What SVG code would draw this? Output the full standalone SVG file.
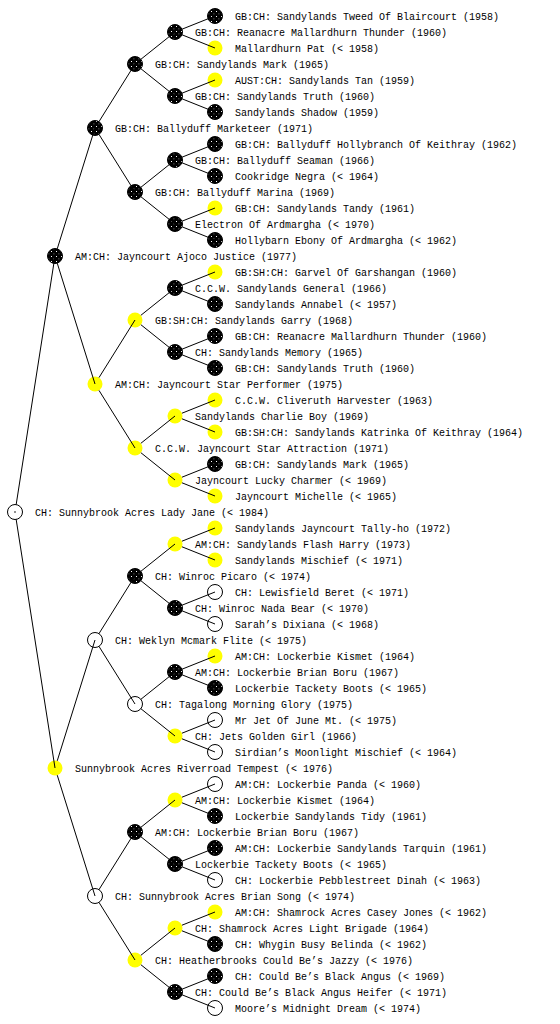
<svg xmlns="http://www.w3.org/2000/svg" width="560" height="1024" viewBox="0 0 560 1024">
<defs>
<pattern id="dots" width="5" height="5" patternUnits="userSpaceOnUse">
<rect width="5" height="5" fill="#000"/>
<rect x="1" y="1" width="1" height="1" fill="#fff"/>
<rect x="3.5" y="3.5" width="0.8" height="0.8" fill="#bbb"/>
</pattern>
<style>
.b{fill:url(#dots);stroke:#000;stroke-width:1}
.y{fill:#ffff00;stroke:none}
.w{fill:#fff;stroke:#000;stroke-width:1}
text{font-family:"Liberation Mono","DejaVu Sans Mono",monospace;font-size:10px;fill:#000}
.c{fill:none;stroke:#000;stroke-width:1}
</style>
</defs>
<rect width="560" height="1024" fill="#fff"/>
<g id="nodes">
<g id="n0"><circle class="w" cx="15" cy="512" r="7.5"/><circle cx="15" cy="512" r="0.8" fill="#000"/><text x="35" y="515.5">CH: Sunnybrook Acres Lady Jane (&lt; 1984)</text></g>
<g id="n1a"><circle class="b" cx="55" cy="256" r="7.5"/><text x="75" y="259.5">AM:CH: Jayncourt Ajoco Justice (1977)</text></g>
<g id="n1b"><circle class="y" cx="55" cy="768" r="7.5"/><text x="75" y="771.5">Sunnybrook Acres Riverroad Tempest (&lt; 1976)</text></g>
<g id="n2a"><circle class="b" cx="95" cy="128" r="7.5"/><text x="115" y="131.5">GB:CH: Ballyduff Marketeer (1971)</text></g>
<g id="n2b"><circle class="y" cx="95" cy="384" r="7.5"/><text x="115" y="387.5">AM:CH: Jayncourt Star Performer (1975)</text></g>
<g id="n2c"><circle class="w" cx="95" cy="640" r="7.5"/><text x="115" y="643.5">CH: Weklyn Mcmark Flite (&lt; 1975)</text></g>
<g id="n2d"><circle class="w" cx="95" cy="896" r="7.5"/><text x="115" y="899.5">CH: Sunnybrook Acres Brian Song (&lt; 1974)</text></g>
<g id="n3a"><circle class="b" cx="135" cy="64" r="7.5"/><text x="155" y="67.5">GB:CH: Sandylands Mark (1965)</text></g>
<g id="n3b"><circle class="b" cx="135" cy="192" r="7.5"/><text x="155" y="195.5">GB:CH: Ballyduff Marina (1969)</text></g>
<g id="n3c"><circle class="y" cx="135" cy="320" r="7.5"/><text x="155" y="323.5">GB:SH:CH: Sandylands Garry (1968)</text></g>
<g id="n3d"><circle class="y" cx="135" cy="448" r="7.5"/><text x="155" y="451.5">C.C.W. Jayncourt Star Attraction (1971)</text></g>
<g id="n3e"><circle class="b" cx="135" cy="576" r="7.5"/><text x="155" y="579.5">CH: Winroc Picaro (&lt; 1974)</text></g>
<g id="n3f"><circle class="w" cx="135" cy="704" r="7.5"/><text x="155" y="707.5">CH: Tagalong Morning Glory (1975)</text></g>
<g id="n3g"><circle class="b" cx="135" cy="832" r="7.5"/><text x="155" y="835.5">AM:CH: Lockerbie Brian Boru (1967)</text></g>
<g id="n3h"><circle class="y" cx="135" cy="960" r="7.5"/><text x="155" y="963.5">CH: Heatherbrooks Could Be’s Jazzy (&lt; 1976)</text></g>
<g id="n4a"><circle class="b" cx="175" cy="32" r="7.5"/><text x="195" y="35.5">GB:CH: Reanacre Mallardhurn Thunder (1960)</text></g>
<g id="n4b"><circle class="b" cx="175" cy="96" r="7.5"/><text x="195" y="99.5">GB:CH: Sandylands Truth (1960)</text></g>
<g id="n4c"><circle class="b" cx="175" cy="160" r="7.5"/><text x="195" y="163.5">GB:CH: Ballyduff Seaman (1966)</text></g>
<g id="n4d"><circle class="b" cx="175" cy="224" r="7.5"/><text x="195" y="227.5">Electron Of Ardmargha (&lt; 1970)</text></g>
<g id="n4e"><circle class="b" cx="175" cy="288" r="7.5"/><text x="195" y="291.5">C.C.W. Sandylands General (1966)</text></g>
<g id="n4f"><circle class="b" cx="175" cy="352" r="7.5"/><text x="195" y="355.5">CH: Sandylands Memory (1965)</text></g>
<g id="n4g"><circle class="y" cx="175" cy="416" r="7.5"/><text x="195" y="419.5">Sandylands Charlie Boy (1969)</text></g>
<g id="n4h"><circle class="y" cx="175" cy="480" r="7.5"/><text x="195" y="483.5">Jayncourt Lucky Charmer (&lt; 1969)</text></g>
<g id="n4i"><circle class="y" cx="175" cy="544" r="7.5"/><text x="195" y="547.5">AM:CH: Sandylands Flash Harry (1973)</text></g>
<g id="n4j"><circle class="b" cx="175" cy="608" r="7.5"/><text x="195" y="611.5">CH: Winroc Nada Bear (&lt; 1970)</text></g>
<g id="n4k"><circle class="b" cx="175" cy="672" r="7.5"/><text x="195" y="675.5">AM:CH: Lockerbie Brian Boru (1967)</text></g>
<g id="n4l"><circle class="y" cx="175" cy="736" r="7.5"/><text x="195" y="739.5">CH: Jets Golden Girl (1966)</text></g>
<g id="n4m"><circle class="y" cx="175" cy="800" r="7.5"/><text x="195" y="803.5">AM:CH: Lockerbie Kismet (1964)</text></g>
<g id="n4n"><circle class="b" cx="175" cy="864" r="7.5"/><text x="195" y="867.5">Lockerbie Tackety Boots (&lt; 1965)</text></g>
<g id="n4o"><circle class="y" cx="175" cy="928" r="7.5"/><text x="195" y="931.5">CH: Shamrock Acres Light Brigade (1964)</text></g>
<g id="n4p"><circle class="b" cx="175" cy="992" r="7.5"/><text x="195" y="995.5">CH: Could Be’s Black Angus Heifer (&lt; 1971)</text></g>
<g id="l00"><circle class="b" cx="215" cy="16" r="7.5"/><text x="235" y="19.5">GB:CH: Sandylands Tweed Of Blaircourt (1958)</text></g>
<g id="l01"><circle class="y" cx="215" cy="48" r="7.5"/><text x="235" y="51.5">Mallardhurn Pat (&lt; 1958)</text></g>
<g id="l02"><circle class="y" cx="215" cy="80" r="7.5"/><text x="235" y="83.5">AUST:CH: Sandylands Tan (1959)</text></g>
<g id="l03"><circle class="b" cx="215" cy="112" r="7.5"/><text x="235" y="115.5">Sandylands Shadow (1959)</text></g>
<g id="l04"><circle class="b" cx="215" cy="144" r="7.5"/><text x="235" y="147.5">GB:CH: Ballyduff Hollybranch Of Keithray (1962)</text></g>
<g id="l05"><circle class="b" cx="215" cy="176" r="7.5"/><text x="235" y="179.5">Cookridge Negra (&lt; 1964)</text></g>
<g id="l06"><circle class="y" cx="215" cy="208" r="7.5"/><text x="235" y="211.5">GB:CH: Sandylands Tandy (1961)</text></g>
<g id="l07"><circle class="b" cx="215" cy="240" r="7.5"/><text x="235" y="243.5">Hollybarn Ebony Of Ardmargha (&lt; 1962)</text></g>
<g id="l08"><circle class="y" cx="215" cy="272" r="7.5"/><text x="235" y="275.5">GB:SH:CH: Garvel Of Garshangan (1960)</text></g>
<g id="l09"><circle class="b" cx="215" cy="304" r="7.5"/><text x="235" y="307.5">Sandylands Annabel (&lt; 1957)</text></g>
<g id="l10"><circle class="b" cx="215" cy="336" r="7.5"/><text x="235" y="339.5">GB:CH: Reanacre Mallardhurn Thunder (1960)</text></g>
<g id="l11"><circle class="b" cx="215" cy="368" r="7.5"/><text x="235" y="371.5">GB:CH: Sandylands Truth (1960)</text></g>
<g id="l12"><circle class="y" cx="215" cy="400" r="7.5"/><text x="235" y="403.5">C.C.W. Cliveruth Harvester (1963)</text></g>
<g id="l13"><circle class="y" cx="215" cy="432" r="7.5"/><text x="235" y="435.5">GB:SH:CH: Sandylands Katrinka Of Keithray (1964)</text></g>
<g id="l14"><circle class="b" cx="215" cy="464" r="7.5"/><text x="235" y="467.5">GB:CH: Sandylands Mark (1965)</text></g>
<g id="l15"><circle class="y" cx="215" cy="496" r="7.5"/><text x="235" y="499.5">Jayncourt Michelle (&lt; 1965)</text></g>
<g id="l16"><circle class="y" cx="215" cy="528" r="7.5"/><text x="235" y="531.5">Sandylands Jayncourt Tally-ho (1972)</text></g>
<g id="l17"><circle class="y" cx="215" cy="560" r="7.5"/><text x="235" y="563.5">Sandylands Mischief (&lt; 1971)</text></g>
<g id="l18"><circle class="w" cx="215" cy="592" r="7.5"/><text x="235" y="595.5">CH: Lewisfield Beret (&lt; 1971)</text></g>
<g id="l19"><circle class="w" cx="215" cy="624" r="7.5"/><text x="235" y="627.5">Sarah’s Dixiana (&lt; 1968)</text></g>
<g id="l20"><circle class="y" cx="215" cy="656" r="7.5"/><text x="235" y="659.5">AM:CH: Lockerbie Kismet (1964)</text></g>
<g id="l21"><circle class="b" cx="215" cy="688" r="7.5"/><text x="235" y="691.5">Lockerbie Tackety Boots (&lt; 1965)</text></g>
<g id="l22"><circle class="w" cx="215" cy="720" r="7.5"/><text x="235" y="723.5">Mr Jet Of June Mt. (&lt; 1975)</text></g>
<g id="l23"><circle class="w" cx="215" cy="752" r="7.5"/><text x="235" y="755.5">Sirdian’s Moonlight Mischief (&lt; 1964)</text></g>
<g id="l24"><circle class="w" cx="215" cy="784" r="7.5"/><text x="235" y="787.5">AM:CH: Lockerbie Panda (&lt; 1960)</text></g>
<g id="l25"><circle class="b" cx="215" cy="816" r="7.5"/><text x="235" y="819.5">Lockerbie Sandylands Tidy (1961)</text></g>
<g id="l26"><circle class="b" cx="215" cy="848" r="7.5"/><text x="235" y="851.5">AM:CH: Lockerbie Sandylands Tarquin (1961)</text></g>
<g id="l27"><circle class="w" cx="215" cy="880" r="7.5"/><text x="235" y="883.5">CH: Lockerbie Pebblestreet Dinah (&lt; 1963)</text></g>
<g id="l28"><circle class="y" cx="215" cy="912" r="7.5"/><text x="235" y="915.5">AM:CH: Shamrock Acres Casey Jones (&lt; 1962)</text></g>
<g id="l29"><circle class="b" cx="215" cy="944" r="7.5"/><text x="235" y="947.5">CH: Whygin Busy Belinda (&lt; 1962)</text></g>
<g id="l30"><circle class="b" cx="215" cy="976" r="7.5"/><text x="235" y="979.5">CH: Could Be’s Black Angus (&lt; 1969)</text></g>
<g id="l31"><circle class="w" cx="215" cy="1008" r="7.5"/><text x="235" y="1011.5">Moore’s Midnight Dream (&lt; 1974)</text></g>
</g>
<g id="connectors">
<path class="c" d="M16.16,504.59L55,256M16.16,519.41L55,768
M57.24,248.84L95,128M57.24,263.16L95,384M57.24,760.84L95,640M57.24,775.16L95,896
M98.97,121.64L135,64M98.97,134.36L135,192M98.97,377.64L135,320M98.97,390.36L135,448M98.97,633.64L135,576M98.97,646.36L135,704M98.97,889.64L135,832M98.97,902.36L135,960
M140.86,59.31L175,32M140.86,68.69L175,96M140.86,187.31L175,160M140.86,196.69L175,224M140.86,315.31L175,288M140.86,324.69L175,352M140.86,443.31L175,416M140.86,452.69L175,480M140.86,571.31L175,544M140.86,580.69L175,608M140.86,699.31L175,672M140.86,708.69L175,736M140.86,827.31L175,800M140.86,836.69L175,864M140.86,955.31L175,928M140.86,964.69L175,992
M181.96,29.21L215,16M181.96,34.79L215,48M181.96,93.21L215,80M181.96,98.79L215,112M181.96,157.21L215,144M181.96,162.79L215,176M181.96,221.21L215,208M181.96,226.79L215,240M181.96,285.21L215,272M181.96,290.79L215,304M181.96,349.21L215,336M181.96,354.79L215,368M181.96,413.21L215,400M181.96,418.79L215,432M181.96,477.21L215,464M181.96,482.79L215,496M181.96,541.21L215,528M181.96,546.79L215,560M181.96,605.21L215,592M181.96,610.79L215,624M181.96,669.21L215,656M181.96,674.79L215,688M181.96,733.21L215,720M181.96,738.79L215,752M181.96,797.21L215,784M181.96,802.79L215,816M181.96,861.21L215,848M181.96,866.79L215,880M181.96,925.21L215,912M181.96,930.79L215,944M181.96,989.21L215,976M181.96,994.79L215,1008"/>
</g>
</svg>
